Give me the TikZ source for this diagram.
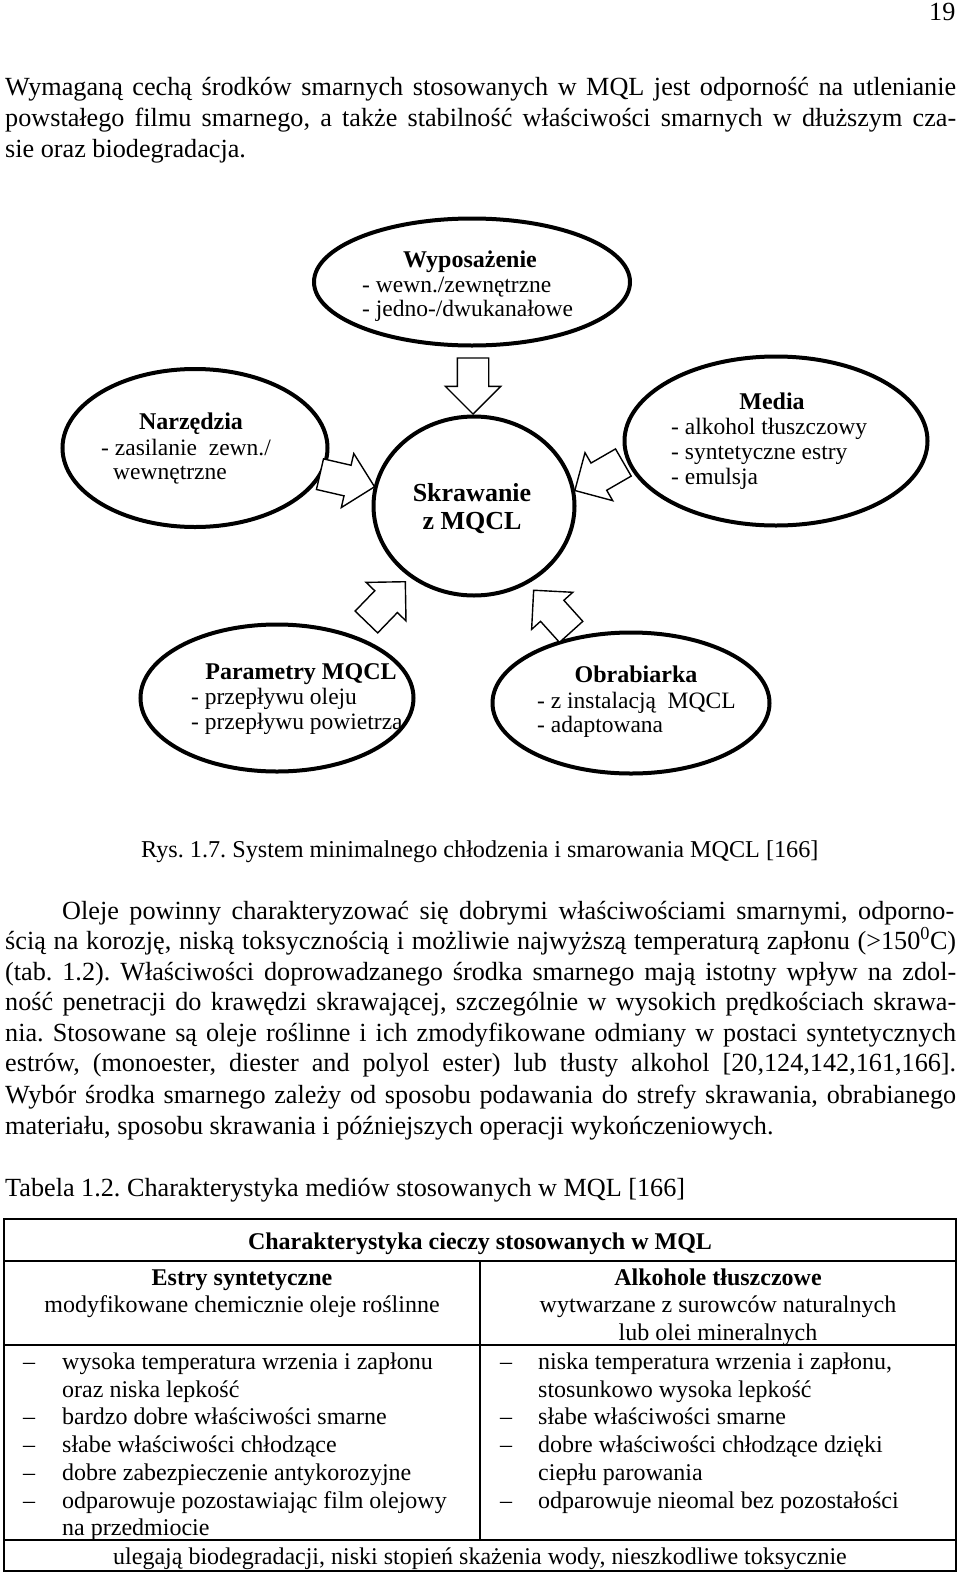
\documentclass[tikz,border=0pt]{standalone}
\usepackage{fontspec}
\setmainfont{Liberation Serif}
\usetikzlibrary{shapes.geometric,shapes.arrows}
\newcommand\jl[2]{\makebox[#1pt][s]{#2}}
\frenchspacing
\begin{document}
\begin{tikzpicture}[x=1pt,y=-1pt,
  body/.style={inner sep=0pt, anchor=base west, font=\fontsize{26.2}{30}\selectfont},
  dtxt/.style={inner sep=0pt, anchor=base west, font=\fontsize{23.5}{25}\selectfont},
  dttl/.style={inner sep=0pt, anchor=base, font=\fontsize{24}{27}\selectfont\bfseries},
  ell/.style={draw, line width=4pt, ellipse, inner sep=0pt},
  barrow/.style={draw, fill=white, line width=1.4pt, single arrow, minimum height=56pt,
    inner sep=0pt, minimum width=0pt, text height=30pt, text width=0pt, text depth=0pt,
    single arrow head extend=12pt, anchor=tip},
  ttxt/.style={inner sep=0pt, anchor=base west, font=\fontsize{24}{27}\selectfont},
  tctr/.style={inner sep=0pt, anchor=base, font=\fontsize{24}{27}\selectfont},
  tbold/.style={tctr, font=\fontsize{24}{27}\selectfont\bfseries},
  tline/.style={line width=1.5pt}]
\useasboundingbox (0,0) rectangle (960,1574);
\fill[white] (0,0) rectangle (960,1574);
% page number
\node[body] (pg) at (929,20) {19};
% paragraph 1
\node[body] (p1a) at (5,95.5) {\jl{951}{Wymaganą cechą środków smarnych stosowanych w MQL jest odporność na utlenianie}};
\node[body] (p1b) at (5,126.5) {\jl{951}{powstałego filmu smarnego, a także stabilność właściwości smarnych w dłuższym cza-}};
\node[body] (p1c) at (5,157) {sie oraz biodegradacja.};
% diagram ellipses
\node[ell, minimum width=316pt, minimum height=127pt] (wyp) at (472,282) {};
\node[ell, minimum width=265pt, minimum height=158pt] (narz) at (195,448) {};
\node[ell, minimum width=201pt, minimum height=179pt] (skr) at (474,506) {};
\node[ell, minimum width=303pt, minimum height=169pt] (med) at (776,441) {};
\node[ell, minimum width=273pt, minimum height=147pt] (par) at (277,698) {};
\node[ell, minimum width=277pt, minimum height=141pt] (obr) at (631,703) {};
% diagram texts
\node[dttl] (wypt) at (470,267) {Wyposażenie};
\node[dtxt] (wyp1) at (362,292) {- wewn./zewnętrzne};
\node[dtxt] (wyp2) at (362,316) {- jedno-/dwukanałowe};
\node[dttl] (narzt) at (191,429) {Narzędzia};
\node[dtxt] (narz1) at (101,455) {- zasilanie\ \ zewn./};
\node[dtxt] (narz2) at (113,479) {wewnętrzne};
\node[dttl, font=\fontsize{26}{29}\selectfont\bfseries] (skr1) at (472,501) {Skrawanie};
\node[dttl, font=\fontsize{26}{29}\selectfont\bfseries] (skr2) at (472,529) {z MQCL};
\node[dttl] (medt) at (772,409) {Media};
\node[dtxt] (med1) at (671,434) {- alkohol tłuszczowy};
\node[dtxt] (med2) at (671,459) {- syntetyczne estry};
\node[dtxt] (med3) at (671,484) {- emulsja};
\node[dttl] (part) at (301,679) {Parametry MQCL};
\node[dtxt] (par1) at (191,704) {- przepływu oleju};
\node[dtxt] (par2) at (191,729) {- przepływu powietrza};
\node[dttl] (obrt) at (636,682) {Obrabiarka};
\node[dtxt] (obr1) at (537,708) {- z instalacją\ \ MQCL};
\node[dtxt] (obr2) at (537,732) {- adaptowana};
% block arrows
\node[barrow, rotate=-90] (a1) at (473,415) {};
\node[barrow, rotate=-13] (a2) at (375.5,487) {};
\node[barrow, rotate=210] (a3) at (574,491) {};
\node[barrow, rotate=46] (a4) at (406,581) {};
\node[barrow, rotate=132] (a5) at (533,589.5) {};
% caption
\node[body, font=\fontsize{24.2}{30}\selectfont] (cap) at (141,857) {Rys. 1.7. System minimalnego chłodzenia i smarowania MQCL [166]};
% paragraph 2
\node[body] (p2a) at (62,919) {\jl{892}{Oleje powinny charakteryzować się dobrymi właściwościami smarnymi, odporno-}};
\node[body] (p2b) at (5,949) {\jl{951}{ścią na korozję, niską toksycznością i możliwie najwyższą temperaturą zapłonu (>150\textsuperscript{0}C)}};
\node[body] (p2c) at (5,980) {\jl{951}{(tab. 1.2). Właściwości doprowadzanego środka smarnego mają istotny wpływ na zdol-}};
\node[body] (p2d) at (5,1010) {\jl{951}{ność penetracji do krawędzi skrawającej, szczególnie w wysokich prędkościach skrawa-}};
\node[body] (p2e) at (5,1041) {\jl{951}{nia. Stosowane są oleje roślinne i ich zmodyfikowane odmiany w postaci syntetycznych}};
\node[body] (p2f) at (5,1071) {\jl{951}{estrów, (monoester, diester and polyol ester) lub tłusty alkohol [20,124,142,161,166].}};
\node[body] (p2g) at (5,1103) {\jl{951}{Wybór środka smarnego zależy od sposobu podawania do strefy skrawania, obrabianego}};
\node[body] (p2h) at (5,1134) {materiału, sposobu skrawania i późniejszych operacji wykończeniowych.};
% table caption
\node[body] (tcap) at (5,1196) {Tabela 1.2. Charakterystyka mediów stosowanych w MQL [166]};
% table
\draw[tline] (4,1219) rectangle (956,1571);
\draw[tline] (4,1261) -- (956,1261);
\draw[tline] (4,1345) -- (956,1345);
\draw[tline] (4,1540) -- (956,1540);
\draw[tline] (480,1261) -- (480,1540);
\node[tbold] (th) at (480,1249) {Charakterystyka cieczy stosowanych w MQL};
\node[tbold] (hl1) at (242,1285) {Estry syntetyczne};
\node[tctr] (hl2) at (242,1312.5) {modyfikowane chemicznie oleje roślinne};
\node[tbold] (hr1) at (718,1285) {Alkohole tłuszczowe};
\node[tctr] (hr2) at (718,1312.5) {wytwarzane z surowców naturalnych};
\node[tctr] (hr3) at (718,1340) {lub olei mineralnych};
% left rows
\node[ttxt] (ld1) at (23,1369) {–};
\node[ttxt] (l1) at (62,1369) {wysoka temperatura wrzenia i zapłonu};
\node[ttxt] (l2) at (62,1397) {oraz niska lepkość};
\node[ttxt] (ld3) at (23,1424) {–};
\node[ttxt] (l3) at (62,1424) {bardzo dobre właściwości smarne};
\node[ttxt] (ld4) at (23,1452) {–};
\node[ttxt] (l4) at (62,1452) {słabe właściwości chłodzące};
\node[ttxt] (ld5) at (23,1480) {–};
\node[ttxt] (l5) at (62,1480) {dobre zabezpieczenie antykorozyjne};
\node[ttxt] (ld6) at (23,1508) {–};
\node[ttxt] (l6) at (62,1508) {odparowuje pozostawiając film olejowy};
\node[ttxt] (l7) at (62,1535) {na przedmiocie};
% right rows
\node[ttxt] (rd1) at (500,1369) {–};
\node[ttxt] (r1) at (538,1369) {niska temperatura wrzenia i zapłonu,};
\node[ttxt] (r2) at (538,1397) {stosunkowo wysoka lepkość};
\node[ttxt] (rd3) at (500,1424) {–};
\node[ttxt] (r3) at (538,1424) {słabe właściwości smarne};
\node[ttxt] (rd4) at (500,1452) {–};
\node[ttxt] (r4) at (538,1452) {dobre właściwości chłodzące dzięki};
\node[ttxt] (r5) at (538,1480) {ciepłu parowania};
\node[ttxt] (rd6) at (500,1508) {–};
\node[ttxt] (r6) at (538,1508) {odparowuje nieomal bez pozostałości};
\node[tctr] (foot) at (480,1564) {ulegają biodegradacji, niski stopień skażenia wody, nieszkodliwe toksycznie};
\end{tikzpicture}
\end{document}
